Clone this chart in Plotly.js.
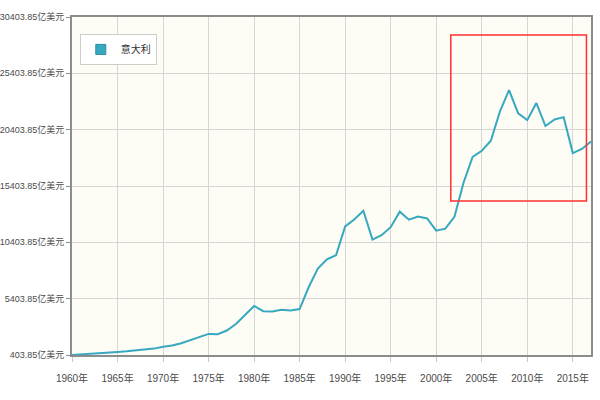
<!DOCTYPE html>
<html>
<head>
<meta charset="utf-8">
<script src="https://cdn.plot.ly/plotly-3.0.1.min.js"></script>
<style>html,body{margin:0;padding:0;background:#fff;}#chart{width:600px;height:400px;}</style>
</head>
<body>
<div id="chart"></div>
<script>
const years = [1960,1961,1962,1963,1964,1965,1966,1967,1968,1969,
  1970,1971,1972,1973,1974,1975,1976,1977,1978,1979,
  1980,1981,1982,1983,1984,1985,1986,1987,1988,1989,
  1990,1991,1992,1993,1994,1995,1996,1997,1998,1999,
  2000,2001,2002,2003,2004,2005,2006,2007,2008,2009,
  2010,2011,2012,2013,2014,2015,2016,2017];
const gdp = [403.85,448.4,503.8,577.1,631.8,679.8,736.5,812.1,879.4,970.1,
  1133.9,1244.3,1450.2,1745.5,1993.3,2274.5,2249.4,2575.9,3150.0,3926.8,
  4756.8,4291.7,4259.3,4414.7,4360.6,4484.3,6438.9,8081.2,8902.9,9259.9,
  11812,12429,13201,10649,11034,11747,13128,12419,12701,12526,
  11438,11623,12668,15696,17982,18527,19426,22031,23910,21852,
  21251,22763,20728,21305,21517,18322,18692,19350];
const seriesName = '意大利';
const yTickVals = [403.85,5403.85,10403.85,15403.85,20403.85,25403.85,30403.85];
const yTickText = ['403.85亿美元','5403.85亿美元','10403.85亿美元','15403.85亿美元','20403.85亿美元','25403.85亿美元','30403.85亿美元'];
const xTickVals = [1960,1965,1970,1975,1980,1985,1990,1995,2000,2005,2010,2015];
const xTickText = ['1960年','1965年','1970年','1975年','1980年','1985年','1990年','1995年','2000年','2005年','2010年','2015年'];
const highlightX = [2001.6, 2016.5];
const highlightY = [14073, 28807];

const lineColor = '#36a8bf';
const fontFam = '"Liberation Sans", "Noto Sans CJK SC", sans-serif';

const traces = [
  {x: years, y: gdp, type: 'scatter', mode: 'lines', name: seriesName,
   line: {color: lineColor, width: 2}, showlegend: false, hoverinfo: 'x+y'},
  {x: [null], y: [null], type: 'scatter', mode: 'markers', name: seriesName,
   marker: {symbol: 'square', size: 10, color: lineColor, line: {color: '#2a8aa0', width: 1}},
   showlegend: true}
];

const layout = {
  width: 600, height: 400,
  margin: {l: 72, r: 9, t: 17, b: 45, pad: 0},
  paper_bgcolor: '#ffffff',
  plot_bgcolor: '#fdfcf5',
  font: {family: fontFam, size: 10, color: '#4a4a4a'},
  showlegend: true,
  legend: {x: 0.015, y: 0.95, xanchor: 'left', yanchor: 'top',
    bgcolor: '#ffffff', bordercolor: '#cccccc', borderwidth: 1,
    font: {family: fontFam, size: 10, color: '#333'}, itemwidth: 30},
  xaxis: {
    range: [1960, 2017], tickvals: xTickVals, ticktext: xTickText,
    showgrid: true, gridcolor: '#d6d6d6', gridwidth: 1,
    zeroline: false, showline: true, linecolor: '#8c8c8c', linewidth: 2, mirror: true,
    ticks: 'outside', ticklen: 5, tickcolor: '#c8c8c8',
    ticklabelstandoff: 8,
    tickfont: {family: fontFam, size: 10, color: '#4a4a4a'}
  },
  yaxis: {
    range: [403.85, 30403.85], tickvals: yTickVals, ticktext: yTickText,
    showgrid: true, gridcolor: '#d6d6d6', gridwidth: 1,
    zeroline: false, showline: true, linecolor: '#8c8c8c', linewidth: 2, mirror: true,
    ticks: 'outside', ticklen: 4, tickcolor: '#8c8c8c',
    tickfont: {family: fontFam, size: 9, color: '#4a4a4a'}
  },
  shapes: [{type: 'rect', xref: 'x', yref: 'y',
    x0: highlightX[0], x1: highlightX[1], y0: highlightY[0], y1: highlightY[1],
    line: {color: '#ff3030', width: 1.5}, fillcolor: 'rgba(0,0,0,0)'}]
};

Plotly.newPlot('chart', traces, layout, {displayModeBar: false, staticPlot: true});
</script>
</body>
</html>
